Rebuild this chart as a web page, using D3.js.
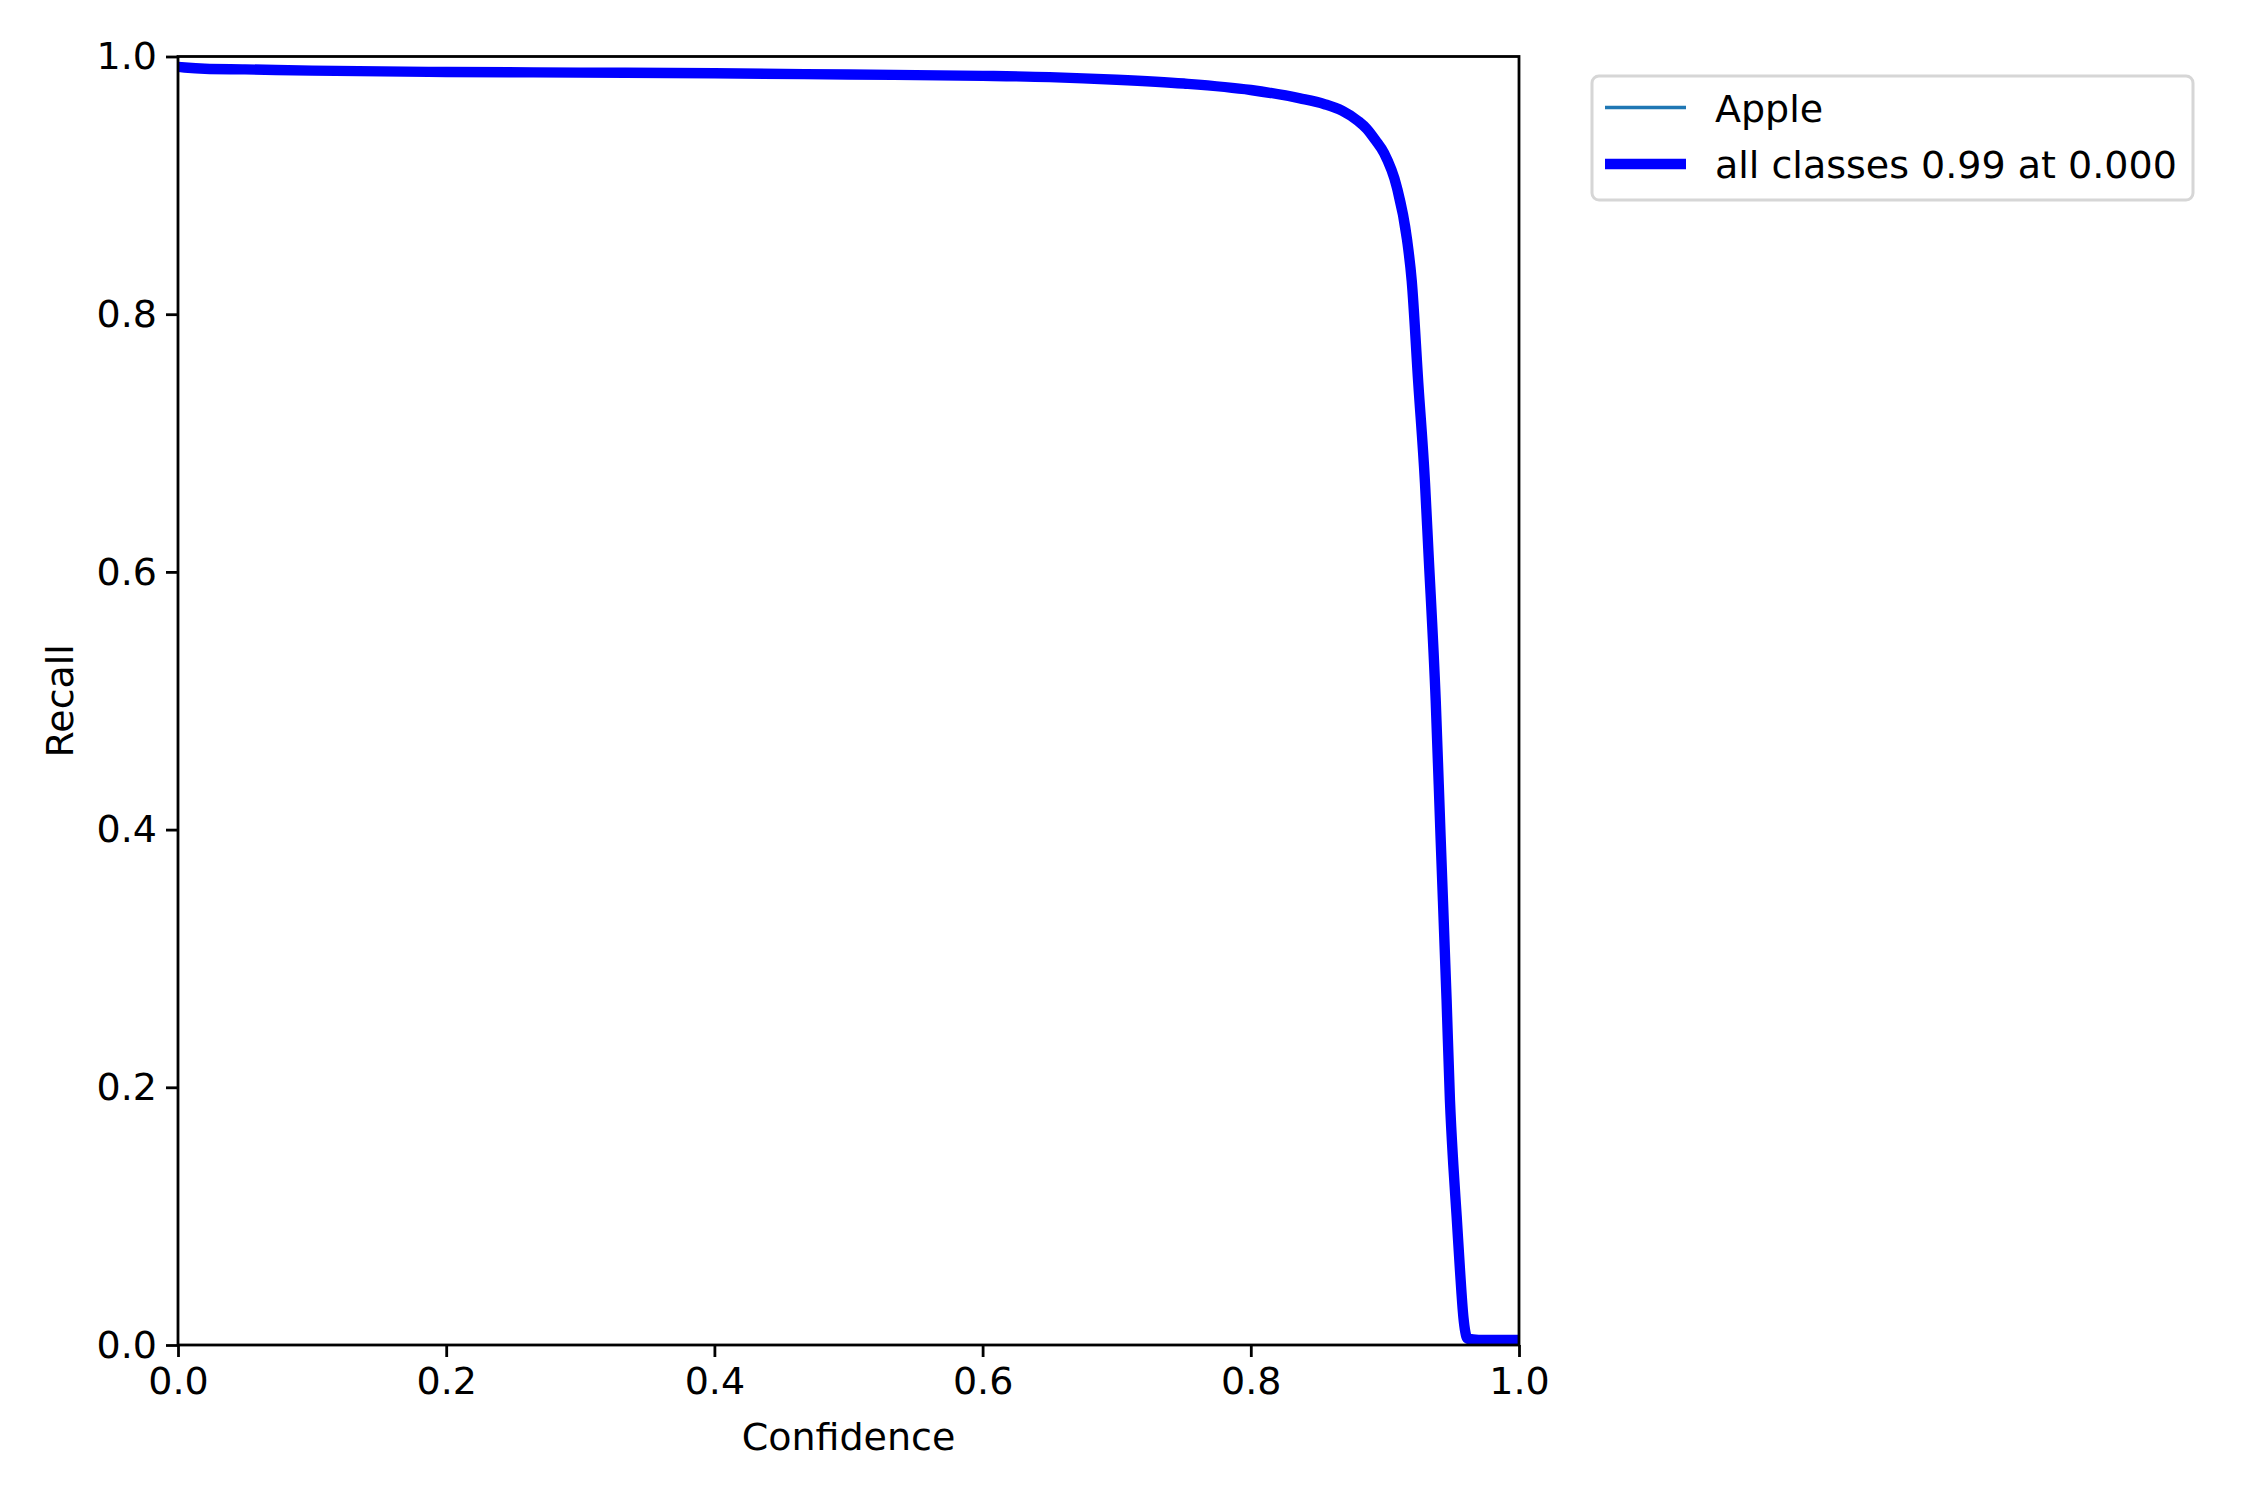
<!DOCTYPE html>
<html><head><meta charset="utf-8">
<script src="https://cdn.jsdelivr.net/npm/d3@7"></script>
<style>body{margin:0;background:#fff}svg{display:block}text{font-family:"DejaVu Sans",sans-serif;fill:#000}</style>
</head><body>
<script>
const confidence = [0.000,0.005,0.02,0.05,0.1,0.2,0.3,0.4,0.5,0.6,0.65,0.7,0.75,0.8,0.8367,0.855,0.868,0.88,0.8864,0.893,0.8994,0.9088,0.9165,0.92,0.9249,0.9299,0.9324,0.9379,0.9415,0.946,0.9485,0.951,0.9535,0.956,0.9585,0.960,0.9615,0.97,1.0];
const recall =     [0.992,0.9915,0.9905,0.990,0.989,0.988,0.9875,0.987,0.986,0.985,0.984,0.982,0.979,0.974,0.9675,0.963,0.958,0.950,0.944,0.935,0.925,0.899,0.858,0.826,0.7464,0.669,0.617,0.500,0.395,0.268,0.190,0.140,0.100,0.058,0.022,0.010,0.005,0.004,0.004];
const xTicks = [0.0,0.2,0.4,0.6,0.8,1.0];
const yTicks = [0.0,0.2,0.4,0.6,0.8,1.0];
const legendLabels = ["Apple","all classes 0.99 at 0.000"];

const W=2250,H=1500;
const L=178,R=1519,T=56.5,B=1345;
const FS="38px";
const svg=d3.select("body").append("svg").attr("width",W).attr("height",H);
const x=d3.scaleLinear().domain([0,1]).range([L,R]);
const y=d3.scaleLinear().domain([0,1]).range([B,T]);
const pts=confidence.map((c,i)=>[c,recall[i]]);
const line=d3.line().x(d=>x(d[0])).y(d=>y(d[1])).curve(d3.curveMonotoneX);

svg.append("clipPath").attr("id","clip").append("rect").attr("x",L).attr("y",T).attr("width",R-L).attr("height",B-T);
const g=svg.append("g").attr("clip-path","url(#clip)");
g.append("path").datum(pts).attr("d",line).attr("fill","none").attr("stroke","#1f77b4").attr("stroke-width",3.5);
g.append("path").datum(pts).attr("d",line).attr("fill","none").attr("stroke","#0000ff").attr("stroke-width",10.4).attr("stroke-linejoin","round").attr("stroke-linecap","butt");

const fmt=d3.format(".1f");
const xa=svg.append("g").attr("transform",`translate(0,${B})`).call(d3.axisBottom(x).tickValues(xTicks).tickFormat(fmt).tickSize(12).tickPadding(10));
const ya=svg.append("g").attr("transform",`translate(${L},0)`).call(d3.axisLeft(y).tickValues(yTicks).tickFormat(fmt).tickSize(12).tickPadding(9));
[xa,ya].forEach(a=>{a.select(".domain").remove();a.selectAll("line").attr("stroke","#000").attr("stroke-width",2.8);a.selectAll("text").style("font-size",FS).style("font-family","DejaVu Sans");});
svg.append("rect").attr("x",L).attr("y",T).attr("width",R-L).attr("height",B-T).attr("fill","none").attr("stroke","#000").attr("stroke-width",2.8);

svg.append("text").attr("x",(L+R)/2).attr("y",1450).attr("text-anchor","middle").style("font-size",FS).text("Confidence");
svg.append("text").attr("transform",`translate(73,${(T+B)/2}) rotate(-90)`).attr("text-anchor","middle").style("font-size",FS).text("Recall");

// legend
const lg=svg.append("g");
lg.append("rect").attr("x",1592).attr("y",76).attr("width",601).attr("height",124).attr("rx",7).attr("fill","#fff").attr("stroke","#d6d6d6").attr("stroke-width",3);
const rows=[{c:"#1f77b4",w:3.5,y:107.5},{c:"#0000ff",w:10.4,y:164}];
rows.forEach((r,i)=>{
  lg.append("line").attr("x1",1605).attr("x2",1686).attr("y1",r.y).attr("y2",r.y).attr("stroke",r.c).attr("stroke-width",r.w);
  lg.append("text").attr("x",1715).attr("y",r.y+14).style("font-size",FS).text(legendLabels[i]);
});
</script>
</body></html>
